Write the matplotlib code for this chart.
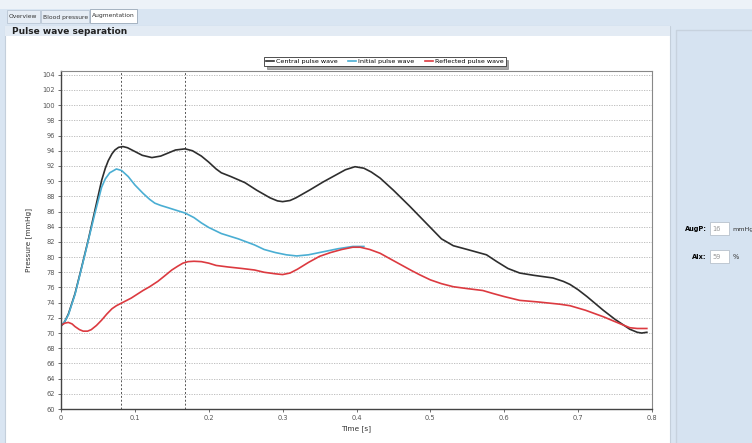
import matplotlib
matplotlib.use("Agg")
import matplotlib.pyplot as plt
from matplotlib.patches import Rectangle

# time [s] and pressure [mmHg]
central_t = [0, 0.005, 0.01, 0.019, 0.028, 0.037, 0.046, 0.055, 0.06, 0.064, 0.069,
             0.073, 0.078, 0.084, 0.09, 0.1, 0.11, 0.123, 0.135, 0.145, 0.155, 0.168,
             0.178, 0.19, 0.2, 0.21, 0.217, 0.23, 0.249, 0.265, 0.283, 0.293, 0.30,
             0.31, 0.318, 0.337, 0.355, 0.37, 0.385, 0.398, 0.41, 0.42, 0.432, 0.45,
             0.472, 0.49, 0.503, 0.515, 0.531, 0.55, 0.576, 0.59, 0.605, 0.621, 0.64,
             0.666, 0.68, 0.689, 0.7, 0.712, 0.734, 0.75, 0.77, 0.78, 0.786, 0.793]
central_p = [70.9, 71.5, 72.5, 75.2, 78.7, 82.3, 86.2, 90.1, 91.7, 92.7, 93.6,
             94.1, 94.45, 94.55, 94.4, 93.9, 93.4, 93.1, 93.3, 93.7, 94.1, 94.25,
             94.0, 93.3, 92.5, 91.6, 91.1, 90.6, 89.8, 88.8, 87.8, 87.4, 87.3,
             87.45, 87.8, 88.85, 89.9, 90.7, 91.5, 91.9, 91.7, 91.2, 90.4, 88.8,
             86.7, 84.9, 83.6, 82.4, 81.5, 81.0, 80.3, 79.4, 78.5, 77.9, 77.6,
             77.25, 76.8, 76.4, 75.7, 74.8, 73.0, 71.8, 70.5, 70.1, 70.0, 70.1]

initial_t = [0, 0.005, 0.01, 0.019, 0.028, 0.037, 0.046, 0.055, 0.06, 0.066, 0.075,
             0.082, 0.091, 0.1, 0.111, 0.12, 0.127, 0.135, 0.145, 0.158, 0.168, 0.18,
             0.19, 0.2, 0.217, 0.24, 0.262, 0.275, 0.29, 0.305, 0.319, 0.335, 0.355,
             0.375, 0.395, 0.41]
initial_p = [70.9, 71.5, 72.4, 75.1, 78.6, 82.2, 85.8, 89.2, 90.3, 91.1, 91.6,
             91.4, 90.6, 89.5, 88.4, 87.6, 87.1, 86.8, 86.5, 86.1, 85.8, 85.2,
             84.5, 83.9, 83.1, 82.4, 81.6, 81.0, 80.6, 80.3, 80.15, 80.3, 80.7,
             81.1, 81.4, 81.4]

reflected_t = [0, 0.005, 0.01, 0.015, 0.019, 0.025, 0.03, 0.036, 0.041, 0.048, 0.055,
               0.062, 0.069, 0.075, 0.082, 0.095, 0.111, 0.12, 0.131, 0.14, 0.15,
               0.158, 0.165, 0.172, 0.18, 0.19, 0.2, 0.21, 0.226, 0.245, 0.262, 0.275,
               0.29, 0.30, 0.31, 0.32, 0.335, 0.35, 0.365, 0.38, 0.395, 0.405, 0.418,
               0.432, 0.445, 0.46, 0.475, 0.486, 0.5, 0.515, 0.531, 0.55, 0.571,
               0.585, 0.6, 0.621, 0.645, 0.675, 0.689, 0.71, 0.734, 0.75, 0.77,
               0.78, 0.793]
reflected_p = [71.0, 71.3, 71.4, 71.2, 70.85, 70.45, 70.25, 70.25, 70.45, 71.0, 71.7,
               72.5, 73.2, 73.6, 73.95, 74.6, 75.6, 76.1, 76.8, 77.5, 78.3,
               78.8, 79.2, 79.4, 79.45, 79.4, 79.2, 78.9, 78.7, 78.5, 78.3, 78.0,
               77.8, 77.7, 77.9, 78.4, 79.3, 80.1, 80.6, 81.0, 81.3, 81.3, 81.0,
               80.5, 79.8, 79.0, 78.2, 77.65, 77.0, 76.5, 76.1, 75.85, 75.6,
               75.2, 74.8, 74.3, 74.1, 73.8, 73.6, 73.0, 72.15, 71.5, 70.7,
               70.6, 70.6]

markers_t = [0.081, 0.168]
aug_p = "16"
aix = "59"

W, H = 752, 443
fig = plt.figure(figsize=(W / 100, H / 100), dpi=100)
fig.patch.set_facecolor("#d9e5f2")

def box(x, y, w, h, **kw):
    # rectangle in pixel coords measured from the top-left corner
    fig.patches.append(Rectangle((x / W, 1 - (y + h) / H), w / W, h / H,
                                 transform=fig.transFigure, figure=fig,
                                 zorder=-5, **kw))

def label(x, y, s, **kw):
    fig.text(x / W, 1 - y / H, s, **kw)

# tabs
box(0, 0, W, 9, facecolor="#edf2f8", edgecolor="none")
box(7, 10, 33, 13, facecolor="#e6edf5", edgecolor="#b9c6d4", lw=0.6)
box(41, 10, 48, 13, facecolor="#e6edf5", edgecolor="#b9c6d4", lw=0.6)
box(90, 9, 47, 14, facecolor="white", edgecolor="#9aa8b8", lw=0.6)
label(9, 17, "Overview", fontsize=4.3, va="center", color="#333333")
label(43, 17, "Blood pressure", fontsize=4.3, va="center", color="#333333")
label(92, 16, "Augmentation", fontsize=4.3, va="center", color="#333333")

# main panel and side panel
box(5, 26, 665, 420, facecolor="white", edgecolor="#c4cfdb", lw=0.8)
box(5, 26, 665, 10, facecolor="#e3ebf4", edgecolor="none")
label(12, 31, "Pulse wave separation", fontsize=6.5, fontweight="bold",
      va="center", color="#222222")
box(676, 30, 80, 420, facecolor="#d6e3f1", edgecolor="#c7d2de", lw=1.0)

label(707, 229, "AugP:", fontsize=4.8, fontweight="bold", ha="right", va="center")
box(710, 222, 19, 13, facecolor="white", edgecolor="#b8c2cc", lw=0.6)
label(712, 229, aug_p, fontsize=4.8, va="center", color="#999999")
label(732, 229, "mmHg", fontsize=4.6, va="center", color="#333333")
label(707, 257, "AIx:", fontsize=4.8, fontweight="bold", ha="right", va="center")
box(710, 250, 19, 13, facecolor="white", edgecolor="#b8c2cc", lw=0.6)
label(712, 257, aix, fontsize=4.8, va="center", color="#999999")
label(733, 257, "%", fontsize=4.8, va="center", color="#333333")

ax = fig.add_axes([61 / W, (H - 409) / H, 591 / W, 338 / H])
ax.set_facecolor("white")

for y in range(60, 105, 2):
    ax.axhline(y, color="#b5b5b5", lw=0.6, ls=(0, (1.5, 1.5)), zorder=0)
for t in markers_t:
    ax.axvline(t, color="#555555", lw=0.7, ls=(0, (2, 2)), zorder=1)

ax.plot(central_t, central_p, color="#2e2e2e", lw=1.2, label="Central pulse wave")
ax.plot(initial_t, initial_p, color="#4aaed3", lw=1.2, label="Initial pulse wave")
ax.plot(reflected_t, reflected_p, color="#dc3a40", lw=1.2, label="Reflected pulse wave")

ax.set_xlim(0, 0.8)
ax.set_ylim(60, 104.5)
ax.set_xticks([i / 10 for i in range(9)])
ax.set_xticklabels(["0"] + [f"{i / 10:g}" for i in range(1, 9)])
ax.set_yticks(range(60, 105, 2))
ax.tick_params(labelsize=4.8, colors="#555555", length=2.5, width=0.6, pad=2)
for s in ["left", "bottom"]:
    ax.spines[s].set_color("#444444")
    ax.spines[s].set_linewidth(1.0)
for s in ["top", "right"]:
    ax.spines[s].set_color("#888888")
    ax.spines[s].set_linewidth(0.8)

ax.set_xlabel("Time [s]", fontsize=5.3, color="#333333", labelpad=3)
ax.set_ylabel("Pressure [mmHg]", fontsize=5.3, color="#333333", labelpad=7)

leg = ax.legend(loc="lower center", bbox_to_anchor=(0.548, 1.005), ncol=3,
                fontsize=4.6, frameon=True, fancybox=False, shadow=True,
                handlelength=1.3, handletextpad=0.3, columnspacing=1.6,
                borderpad=0.3)
leg.get_frame().set_edgecolor("#333333")
leg.get_frame().set_linewidth(0.6)

fig.savefig("out.png", dpi=100, facecolor=fig.get_facecolor())
